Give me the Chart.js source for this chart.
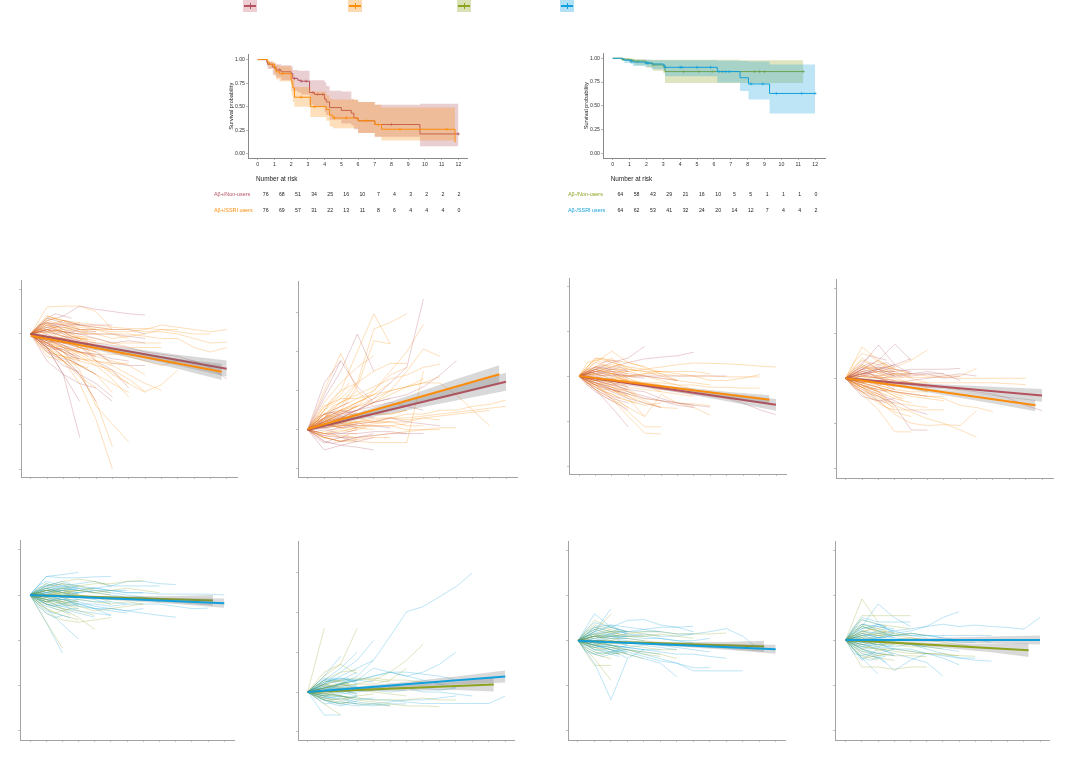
<!DOCTYPE html>
<html>
<head>
<meta charset="utf-8">
<title>Survival and biomarker trajectories</title>
<script src="https://cdn.jsdelivr.net/npm/chart.js@4/dist/chart.umd.js"></script>
<style>
    html, body { margin: 0; padding: 0; background: #fff; }
    body { position: relative; width: 1080px; height: 765px; overflow: hidden; }
    canvas { position: absolute; }
    .key { position: absolute; top: 0; width: 14px; height: 12px; }
    .key i { position: absolute; display: block; }
</style>
</head>
<body>
<script>
// groups
const RED = '#b5525f', ORANGE = '#fb8c0c', OLIVE = '#8ea21f', BLUE = '#12a0dc';
const keyColors = [RED, ORANGE, OLIVE, BLUE];
const keyFills = ['#ecced3', '#fdd9b0', '#d8e2b4', '#b2e1f5'];
const keyLefts = [243, 348, 457, 560];

// survival curves: time, estimate, upper and lower bound
const kmTicksX = [0, 1, 2, 3, 4, 5, 6, 7, 8, 9, 10, 11, 12];
const kmTicksY = [0, 0.25, 0.5, 0.75, 1];

const redT = [0, .55, .6, .9, 1.1, 1.4, 2, 2.1, 2.4, 2.6, 3.1, 3.4, 4, 4.1, 4.3, 5, 5.6, 5.75, 6, 7, 9.7, 12];
const redS = [1, .97, .95, .92, .89, .87, .85, .8, .78, .77, .65, .63, .58, .55, .49, .46, .43, .38, .35, .31, .21, .21];
const redU = [1, .99, .98, .96, .95, .94, .93, .89, .88, .88, .78, .78, .76, .72, .67, .66, .58, .57, .55, .52, .53, .53];
const redL = [1, .93, .9, .84, .81, .78, .75, .67, .65, .63, .52, .5, .44, .41, .36, .32, .3, .26, .22, .18, .08, .08];
const redCensorT = [1.3, 2.2, 2.6, 2.9, 3.3, 3.6, 3.9, 8, 12];
const redCensorS = [.89, .8, .77, .77, .65, .63, .63, .31, .21];

const orangeT = [0, .6, .7, 1, 1.1, 1.3, 2, 2.05, 2.1, 2.2, 3.15, 4.1, 4.3, 4.5, 6, 7, 7.4, 11.8];
const orangeS = [1, .97, .95, .9, .87, .85, .78, .74, .7, .6, .5, .47, .41, .38, .35, .31, .26, .12];
const orangeU = [1, .99, .98, .96, .94, .93, .9, .84, .79, .71, .66, .62, .58, .575, .55, .52, .49, .48];
const orangeL = [1, .94, .91, .83, .79, .77, .66, .62, .55, .5, .39, .35, .29, .27, .22, .18, .14, .14];
const orangeCensorT = [1.5, 2.6, 3.4, 4.6, 5.3, 6.5, 7.2, 8.5, 11.3];
const orangeCensorS = [.85, .6, .5, .38, .38, .35, .31, .26, .26];

const oliveT = [0, .5, .6, 1, 1.3, 2, 2.4, 3, 3.1, 6.2, 7.5, 11.3];
const oliveS = [1, .995, .99, .98, .97, .95, .93, .91, .86, .86, .86, .86];
const oliveU = [1, 1, 1, .995, .99, .985, .985, .985, .985, .985, .98, .98];
const oliveL = [1, .98, .97, .95, .93, .9, .87, .84, .74, .74, .74, .74];
const oliveCensorT = [.6, 1.1, 1.5, 2.4, 4.2, 5.1, 5.9, 6.5, 8.4, 8.7, 9, 11.3];
const oliveCensorS = [.99, .98, .97, .93, .86, .86, .86, .86, .86, .86, .86, .86];

const blueT = [0, .6, .7, 1.05, 1.2, 1.9, 2.3, 3, 3.1, 6.2, 7.55, 8.05, 9.3, 12];
const blueS = [1, .99, .98, .97, .96, .95, .94, .93, .905, .86, .795, .73, .63, .63];
const blueU = [1, 1, .995, .99, .985, .985, .98, .98, .98, .975, .97, .965, .935, .935];
const blueL = [1, .97, .95, .94, .92, .91, .885, .87, .81, .745, .655, .565, .42, .42];
const blueCensorT = [1.1, 2, 2.1, 3.1, 4, 4.1, 5, 5.8, 6.3, 6.7, 6.9, 8.2, 8.9, 9.7, 11.2, 12];
const blueCensorS = [.97, .95, .95, .905, .905, .905, .905, .905, .86, .86, .86, .73, .73, .63, .63, .63];

// number at risk rows
const riskRedRow = [76, 68, 51, 34, 25, 16, 10, 7, 4, 3, 2, 2, 2];
const riskOrangeRow = [76, 69, 57, 31, 22, 13, 11, 8, 6, 4, 4, 4, 0];
const riskOliveRow = [64, 58, 43, 29, 21, 16, 10, 5, 5, 1, 1, 1, 0];
const riskBlueRow = [64, 62, 53, 41, 32, 24, 20, 14, 12, 7, 4, 4, 2];

// change from baseline per participant, one value a year
const p1Orange = [[0,.6,.62,.62,.5,.1],[0,.35,.3,.25,.2,.15,.12,.12,.1,.1],[0,.25,.2,.15,.1,.05,.05,.1,.2,.15,.1,.05,.1],[0,.3,.2,.1,.1,.1,.1,.05,.05,0,-.1,-.2,-.18],[0,.1,.05,0,0,0,0,-.05,-.1,-.1,-.3,-.4,-.3],[0,.05,.1,.05,0,-.1,-.05,0,.1,.05,0,0],[0,.2,.05,-.05,-.1,-.2,-.3,-.3,-.3],[0,-.3,-.6,-1.1,-1.9,-3],[0,-.1,-.4,-.8,-1.6,-2,-2.4],[0,-.2,-.5,-.9,-1.5,-2.5],[0,-.2,-.4,-.6,-.7,-.8,-1,-1.28,-1.13,-.8],[0,-.1,-.3,-.4,-.6,-.7,-.9,-1.1,-1.25],[0,-.3,-.5,-.7,-.9,-1.1,-1.3],[0,-.2,-.3,-.4,-.5,-.6,-.7,-.9],[0,-.05,-.1,-.2,-.3,-.4,-.5,-.6,-.7,-.6],[0,-.15,-.3,-.5,-.7,-1,-1.4],[0,-.4,-.5,-.55,-.6,-.65,-.65],[0,-.5,-.6,-.7,-.9,-1.3],[0,-.1,-.2,-.3,-.35,-.7],[0,.4,.3,.2,.15,.1],[0,.2,.3,.2,.1,0,-.1],[0,.15,.15,.1,.05],[0,-.1,-.15,-.2,-.2,-.2,-.2,-.2,-.2],[0,-.25,-.35,-.4,-.45,-.45,-.45],[0,-.05,-.15,-.25,-.3,-.35],[0,.1,0,-.1,-.15],[0,-.3,-.6,-.95,-1.2],[0,.25,.1,-.1,-.2],[0,.1,-.05,-.1,-.6,-.9,-1.1],[0,-.1,-.25,-.45,-.65,-.85,-1.1,-1.3]];
const p1Red = [[0,.3,.4,.62,.55,.5,.45,.42],[0,.25,.2,.2,.2,.2],[0,.35,.25,.2,.15,.1,.1,0],[0,-.3,-.9,-2.3],[0,-.2,-.5,-.9,-1.5],[0,-.3,-.6,-.9,-1.1,-1.4],[0,-.6,-.9,-1.1,-1.2,-1.5],[0,-.3,-.9,-1.5],[0,-.05,-.1,-.15,-.2,-.25,-.3,-.4,-.45,-.5,-.6,-.75,-1],[0,.1,.05,0,-.1,-.2,-.15,-.2],[0,.2,.15,.05,.05],[0,-.1,-.2,-.3,-.4,-.65,-.7,-.7],[0,.15,.05,0,0,0,-.05,-.1],[0,-.1,-.3,-.4,-.5],[0,-.15,-.25,-.4,-.45,-.55,-.6],[0,-.25,-.4,-.7,-.9],[0,.05,-.05,-.15],[0,.1,.2,.1,.1],[0,-.05,-.1,-.25,-.6,-.8,-1.2],[0,-.4,-.7,-.85]];
const p2Orange = [[0,.5,1,2,2.97,2.2],[0,.3,.6,1.2,2.58,2.75,2.97],[0,.2,.5,1.1,2.28,2.2],[0,.2,.4,.6,1,1.5,2,2.7],[0,.1,.3,.5,.7,1,1.5,2.07,1.88],[0,1,1.96,1,.6],[0,.4,.7,.9,1.1,1.3,1.4,1.6,1.68],[0,.2,.4,.6,.8,1,1.1,1.2,1.36],[0,.3,.5,.7,.9,1,1.1,1.2,1.2,.9,.5,.1],[0,.1,.2,.2,.3,.3,.4,.4,.5,.5,.6,.65,.76],[0,.1,.15,.2,.2,.3,.3,.35,.4,.45,.5,.55,.6],[0,.05,.1,.1,.15,.2,.2,.3,.35,.4,.45,.49],[0,-.2,-.3,-.3,-.33,-.33,-.33,1.5],[0,.5,.8,1.2,1.5,1.7,1.7],[0,.4,.6,.8,1,1.4,1.6],[0,.3,.5,.6,.7,.9,1.1,1.3],[0,.2,.3,.3,.4,.4,.5],[0,.1,.1,.15,.2,.2],[0,.4,.3,.3,.2,.2,.1,.1],[0,.3,.2,.1,.1,.1,0,0,0],[0,.15,.2,.3,.4,.4,.5],[0,-.1,-.15,-.2,-.15,-.1,-.05,0,.05,.05],[0,-.2,-.3,-.25,-.2,-.2],[0,.6,.8,.8,.9],[0,.7,1.2,1.6,1.9],[0,.25,.45,.7,.9,1.2],[0,.15,.05,.05,0],[0,-.1,-.05,.05,.1,.1,.15],[0,.2,.15,.2,.25,.3,.25,.3,.25]];
const p2Red = [[0,.2,.4,.5,.8,1.2,1.6,3.35],[0,.8,1.5,2.45,1.5],[0,1.2,1.77],[0,.9,1.77,1.1,.7],[0,.2,.3,.5,.7,.8,.9,1.1,1.4,1.77],[0,-.3,-.4,-.45,-.52],[0,-.52,-.4,-.3,-.2],[0,-.1,-.1,-.1,-.05,-.05,-.1,-.1],[0,.1,.2,.3,.4,.5,.6],[0,.3,.4,.5,.7,.8],[0,-.15,-.2,-.2,-.15,-.1,-.1],[0,.05,.1,.15,.2,.3,.2,.15,.1],[0,.4,.5,.4,.3],[0,.15,.05,.1,.1,.05],[0,-.2,-.3,-.2,-.1],[0,.25,.35,.5,.6,.7,.6,.5]];
const p3Orange = [[0,.4,.3,.2,.15,.1],[0,.3,.55,.3,.2,.05,-.1],[0,.4,.35,.3,.2],[0,.1,.1,.1,.15,.2,.25,.29,.28,.27,.25,.22,.2],[0,.05,.05,0,.05,.05,0,0,0,-.02,-.02,-.02],[0,-.1,-.05,0,.05,.1,.05,0,-.1,-.1,-.05,.03],[0,-.05,-.1,-.1,-.15,-.15,-.2,-.2,-.25,-.25,-.27,-.27],[0,-.3,-.5,-.8,-1.13,-1.13],[0,-.2,-.5,-.9,-1.27,-1.29],[0,-.2,-.3,-.5,-.9,-.41,-.6,-.7,-.87],[0,-.1,-.2,-.35,-.5,-.55,-.6,-.62,-.66],[0,.2,.25,.15,.1,0,-.1],[0,.15,.2,.1,0,-.1,-.2,-.3],[0,-.15,-.3,-.45,-.6,-.7],[0,-.1,-.25,-.4,-.55,-.7,-.72],[0,-.25,-.4,-.55,-.65,-.6],[0,.1,0,-.1,-.15,-.2],[0,-.05,-.15,-.25,-.3,-.35,-.4,-.45],[0,.2,.1,0,0,-.05,-.1,-.15,-.2],[0,-.2,-.45,-.7,-.9],[0,.1,.15,.15,.1,.1,.1,.1,.05],[0,-.1,-.1,-.15,-.2,-.3,-.3],[0,.05,-.05,-.1],[0,.15,.05,-.05,-.2,-.35]];
const p3Red = [[0,.15,.3,.4,.66],[0,.1,.2,.3,.38,.42,.45,.53],[0,-.3,-.7,-1.13],[0,-.1,-.15,-.2,-.25,-.3,-.35,-.4,-.45,-.5,-.6,-.75,-.86],[0,-.15,-.3,-.4,-.5,-.55,-.6,-.65,-.69],[0,.02,0,0,0,0,0,0,0,0],[0,-.2,-.35,-.5,-.6,-.7],[0,.1,.05,0,-.05],[0,.2,.15,.1],[0,-.3,-.5,-.6],[0,-.1,-.2,-.3,-.35,-.5,-.6,-.65],[0,-.05,-.1,-.15,-.2],[0,.05,.1,.05,0,-.05,-.1],[0,-.15,-.25,-.35,-.45,-.55,-.65,-.7]];
const p4Orange = [[0,.7,.4,.2,.1],[0,.45,.2,.1,.05],[0,.1,.15,.25,.4,.63],[0,.05,.05,.1,.1,.05,.05,.05,.22],[0,0,.02,.02,.02,.02,.02,0,0,0,0,0],[0,-.05,-.05,-.1,-.1,-.1,-.1,-.1,-.1,-.1,-.12,-.14],[0,-.1,-.2,-.3,-.35,-.4,-.45,-.6,-.65,-.74],[0,-.2,-.4,-.6,-.75,-.9,-1,-1.15,-1.31],[0,-.35,-.7,-1.19,-1.19],[0,-.2,-.5,-.8,-1,-1.05,-1.03,-1.05,-.72],[0,-.1,-.35,-.7,-.7,-.7,-.7],[0,.3,.1,0,-.1,-.2],[0,.2,.3,.2,.1],[0,-.15,-.3,-.45,-.55],[0,-.25,-.4,-.55,-.6,-.65],[0,-.1,-.2,-.3,-.4,-.45,-.5],[0,.15,.05,-.05,-.1,-.15,-.2],[0,-.05,-.15,-.25,-.3,-.3],[0,.05,0,-.05,-.1,-.15,-.2,-.25],[0,-.3,-.55,-.75,-.85],[0,-.1,-.05,-.1,-.2,-.3],[0,.25,.2,.15,0,-.1],[0,-.2,-.25,-.3,-.35,-.4,-.4]];
const p4Red = [[0,.3,.74,.3,.1],[0,.2,.4,.76,.4],[0,.1,.2,.3,.44],[0,.1,.15,.15,.2,.2,.2,.22],[0,-.05,-.05,-.1,-.15,-.2,-.2,-.25,-.3,-.35,-.45,-.6,-.72],[0,-.15,-.3,-.6,-1.15,-1.15],[0,.15,.2,.1,.1,.1,.1],[0,-.4,-.5,-.45],[0,.1,.15,.05,.05,.1,0,.05],[0,-.1,-.2,-.3,-.35,-.4],[0,.2,.25,.2,.15],[0,-.05,-.1,-.1,-.05,0,.05,.1,.05],[0,-.2,-.35,-.5,-.7,-.8],[0,.05,0,-.05],[0,.1,0,.05,.1,.15,.1,-.05]];
const p5Blue = [[0,.41,.45,.5],[0,.41,.38,.38,.4,.41],[0,.15,.2,.25,.3,.2,.3,.3,.25,.23],[0,.1,.15,.1,.15,.2,.2,.2,.2],[0,.1,.1,.05,.1,.1,.05,.05,.02,.02,.02,.02,0],[0,-.05,-.1,-.1,-.15,-.15,-.2,-.2,-.2,-.25,-.3,-.29],[0,-.1,-.2,-.25,-.3,-.3,-.35,-.4,-.45,-.49],[0,-.3,-.65,-.97],[0,-.6,-1.28],[0,-.2,-.3,-.4,-.49],[0,.2,.25,.2,.15,.1,.1],[0,-.15,-.25,-.35,-.4,-.45],[0,.05,0,.05,.1,.05,0,-.05,-.1,-.15],[0,-.1,-.15,-.2,-.2,-.25,-.2],[0,.25,.15,.1,.05],[0,-.2,-.25,-.2,-.3,-.35,-.4],[0,.15,.05,-.05,-.1,-.2],[0,-.05,-.1,-.2,-.3,-.45],[0,.1,.2,.15,.05,0,-.05,-.05,-.15],[0,-.15,-.1,-.15,-.25,-.3,-.35,-.3],[0,.05,.1,.15,.15,.1,.05,.05]];
const p5Olive = [[0,-.6,-1.17],[0,.1,.15,.2,.25,.25,.3,.32],[0,-.1,-.3,-.5,-.76],[0,.2,.3,.35,.3,.2],[0,-.4,-.55,-.6,-.55,-.5],[0,.1,.05,0,-.05,-.15],[0,-.05,-.15,-.25,-.35,-.3,-.25,-.2],[0,.05,.1,.1,.05,.1,.15,.1,.05],[0,-.2,-.3,-.35,-.45],[0,.15,.25,.2,.1,.05],[0,-.1,-.2,-.1,-.15,-.2,-.15,-.2],[0,0,.05,0,-.05,-.1,-.1,-.1,-.12,-.1],[0,.1,.05,.1,.15],[0,-.15,-.1,-.2],[0,-.05,.05,.1,.05,0],[0,-.3,-.45,-.55]];
const p6Blue = [[0,.1,.2,.4,.8,1.4,2.02,2.15,2.4,2.65,3],[0,.2,.5,.8,1.3],[0,.3,.6,1],[0,.4,.9],[0,.2,.4,.6,.8],[0,.1,.2,.3,.4,.5,.4,.5,.7,1],[0,-.05,-.1,-.15,-.2,-.2,-.25,-.29,-.29,-.29,-.29,-.29,-.1],[0,-.58,-.58],[0,.3,.2,.3,.4,.5,.5,.45,.4,.3],[0,.2,.3,.3,.6,.5,.4,.3,.2,.1],[0,-.1,-.05,0,.05,.1,.1,0,0,-.05,-.1],[0,-.2,-.3,-.35,-.3,-.25,-.2,-.2,-.15,-.1],[0,.1,.05,.1,.05,.1,.1,.1,.05,.1],[0,.15,.1,.05,.05,0,.05],[0,-.1,-.2,-.25,-.3,-.35],[0,-.15,-.1,-.2,-.15],[0,.25,.35,.3,.25],[0,.05,0,.05,.1,.15,.2,.25],[0,-.3,-.25,-.3,-.35,-.3,-.3],[0,.1,.2,.15]];
const p6Olive = [[0,1.6],[0,.5,.7,1.6],[0,.4,.7,.45],[0,.1,.15,.2,.3,.5,.8,1.2],[0,.1,.15,.2,.2,.3,.6],[0,-.05,-.1,-.2,-.25,-.3,-.35,-.35,-.37],[0,-.1,-.1,-.15,-.2,-.2,-.2,-.15,-.2,-.2],[0,-.3,-.58],[0,.2,.3,.35,.3,.25],[0,.1,.2,.3,.35,.3,.3,.25],[0,-.2,-.25,-.3,-.3,-.35],[0,.05,.1,.1,.1,.15,.1,.1],[0,-.05,0,.05,0,-.05,-.1],[0,.15,.2,.1,.05],[0,-.15,-.2,-.1,-.05],[0,.3,.5,.55]];
const p7Blue = [[0,.6,.3,.15],[0,.2,.71],[0,.25,.3,.45,.47,.35,.3,.2],[0,.1,.15,.2,.25,.3,.3,.32],[0,.1,.1,.1,.15,.1,.1,.15,.2,.27,.1,-.2],[0,-.5,-1.31,-.4],[0,-.1,-.2,-.39,-.2],[0,-.1,-.15,-.2,-.3,-.4,-.5,-.67,-.67,-.67,-.67],[0,-.1,-.2,-.25,-.35,-.45,-.5,-.6,-.6],[0,-.1,-.2,-.3,-.4,-.5,-.8],[0,-.05,-.1,-.15,-.2,-.25,-.3,-.3,-.35,-.39],[0,.05,.1,.15,.1,.05,0,-.05],[0,.2,.1,.05,0],[0,-.15,-.1,-.15,-.2,-.2],[0,.15,.2,.2,.2,.2,.15,.15],[0,.3,.35,.3,.25,.2],[0,-.2,-.25,-.2,-.25,-.3],[0,0,.05,.1,.05,.05,0,0,.05],[0,-.05,-.1,-.15,-.1,-.15,-.2],[0,.1,.05,0,-.05,-.1,-.15,-.2,-.25]];
const p7Olive = [[0,-.4,-.88],[0,.2,.59],[0,-.55,-.55],[0,.1,.1,.15,.2,.2,.15,.15,.15,.17],[0,-.1,-.15,-.2,-.25,-.3,-.4],[0,.3,.2,.1,.1],[0,-.05,-.1,-.2,-.3,-.35],[0,.15,.2,.2,.15,.1],[0,-.1,-.05,-.1,-.15,-.2,-.2],[0,.05,.1,.1,.1,.15,.1,.05],[0,.45,.3,.2],[0,-.2,-.3,-.25],[0,.1,.05,.05,0,-.05,-.1],[0,-.15,-.2,-.3,-.4]];
const p8Blue = [[0,.3,.8,.5,.3],[0,.1,.15,.2,.25,.3,.5,.63],[0,.1,.1,.15,.2,.3,.35,.3,.33,.3,.28,.24,.5],[0,.05,.05,.1,.1,.1,.1,.1,.1,.1],[0,.5,.4,.4,.4],[0,-.1,-.2,-.3,-.4,-.5,-.8],[0,-.1,-.15,-.2,-.2,-.3,-.35,-.4,-.45,-.47],[0,-.05,-.1,-.2,-.25,-.3,-.4,-.55],[0,-.4,-.76],[0,-.2,-.35,-.68,-.45,-.3],[0,-.45,-.2],[0,.2,.15,.1,.15,.1,.05],[0,.15,.05,.05,0,0,0,-.05,-.05],[0,-.15,-.1,-.15,-.1,-.15],[0,.25,.3,.2,.1,.05],[0,0,.05,.1,.15,.1,.05,0,0,-.05],[0,-.25,-.3,-.35],[0,.1,0,-.05,-.1,-.15,-.2,-.25],[0,-.05,-.1,-.05,-.1,-.2,-.3,-.4,-.4],[0,.35,.3,.25]];
const p8Olive = [[0,.91,.4],[0,.54,.54,.54,.54],[0,.45,.35,.3,.25],[0,-.6,-.6,-.65,-.6,-.6],[0,-.2,-.3,-.35,-.35,-.37],[0,-.1,-.2,-.25,-.3,-.3,-.33,-.35,-.36],[0,.2,.25,.15,.1],[0,-.3,-.4,-.45],[0,.1,.15,.1,.05,0,-.05,-.1,-.15,-.2],[0,-.15,-.2,-.2,-.25,-.3,-.3,-.35],[0,.3,.2,.15],[0,.05,0,0,.05,0],[0,-.05,-.1,-.1,-.15,-.15,-.2],[0,.15,.1,.1,.15,.1],[0,-.4,-.35,-.3]];

// participants with early visits, one value every half year
const p1OrangeEarly = [[0,.2,.4,.35,.3,.2,.25],[0,.15,.3,.35,.2,.1],[0,.1,.2,.15,.25,.2,.1,.05],[0,.1,.1,.05,.15,.1,.05,0],[0,.2,.25,.1,.05,-.05],[0,.05,.1,.15,.05,-.05,-.1,-.1],[0,-.05,.05,0,-.05,-.1,-.05,-.15],[0,-.05,-.1,-.05,-.15,-.2,-.15,-.25],[0,-.1,-.15,-.2,-.15,-.25,-.3,-.35],[0,-.15,-.2,-.3,-.25,-.35,-.3],[0,-.1,-.25,-.3,-.4,-.45,-.4,-.5],[0,-.2,-.3,-.35,-.5,-.55,-.6],[0,-.15,-.35,-.45,-.5,-.6,-.7,-.75],[0,-.25,-.4,-.5,-.6,-.75],[0,-.05,-.15,-.3,-.35,-.45,-.55,-.6],[0,.05,0,-.1,-.2,-.2,-.3,-.35,-.4],[0,.1,.05,-.05,-.1,-.15,-.1,-.2],[0,0,-.05,-.15,-.1,-.2,-.3,-.4,-.5]];
const p1RedEarly = [[0,.15,.35,.45,.4,.35],[0,.2,.25,.2,.3,.25,.2],[0,.1,.15,.2,.1,.05,.1],[0,.05,.1,0,.05,-.05,-.1],[0,-.05,-.1,-.15,-.05,-.15,-.2,-.2],[0,-.1,-.2,-.15,-.25,-.3,-.35],[0,-.15,-.25,-.35,-.3,-.45,-.5],[0,-.2,-.35,-.5,-.55,-.6,-.7],[0,-.1,-.15,-.3,-.4,-.5,-.55],[0,-.05,0,-.1,-.2,-.15,-.25],[0,.05,.05,.1,0,-.1],[0,-.15,-.2,-.3,-.35,-.45,-.6]];
const p2OrangeEarly = [[0,.2,.5,.8,1,1.1,1.2],[0,.3,.6,.7,.9,1.2],[0,.1,.3,.6,.7,.8,1],[0,.2,.3,.5,.7,.9],[0,.15,.3,.4,.5,.6,.7,.8],[0,.1,.2,.3,.45,.5,.6],[0,.05,.2,.25,.3,.4,.35,.5],[0,.2,.25,.2,.3,.35,.4],[0,.1,.15,.1,.2,.25,.3,.3],[0,.05,.1,.15,.1,.15,.2],[0,-.1,-.05,0,.1,.15,.2,.1],[0,.1,.05,.1,.05,0,.05],[0,-.05,-.1,-.05,0,-.05,0,.05],[0,-.15,-.2,-.15,-.2,-.1,-.1],[0,-.1,-.2,-.25,-.3,-.2,-.25],[0,.25,.4,.3,.25,.35,.45]];
const p2RedEarly = [[0,.2,.3,.5,.6,.7],[0,.1,.25,.4,.45,.5,.65],[0,.15,.2,.25,.35,.3,.4],[0,.05,.1,.2,.15,.25,.3],[0,.1,.05,.1,.15,.1,.15],[0,0,.05,0,.05,.1,.05],[0,-.05,0,-.05,-.1,-.05,0],[0,-.1,-.15,-.1,-.2,-.15],[0,-.15,-.3,-.35,-.3,-.25,-.3],[0,-.2,-.35,-.25,-.2,-.25],[0,.3,.4,.45,.35],[0,.05,.15,.2,.3,.4,.35]];
const p3OrangeEarly = [[0,.3,.35,.4,.3,.25,.15],[0,.2,.35,.3,.4,.2],[0,.15,.3,.25,.2,.25,.2,.1],[0,.1,.2,.25,.15,.1,.05],[0,.05,.15,.1,.05,.1,0,-.05],[0,.1,.05,0,.05,-.05,-.1],[0,0,.05,-.05,-.1,-.05,-.15,-.2],[0,-.05,-.1,-.1,-.2,-.15,-.25],[0,-.1,-.15,-.2,-.25,-.3,-.3,-.4],[0,-.1,-.2,-.3,-.3,-.4,-.45],[0,-.15,-.25,-.35,-.4,-.5,-.55,-.6],[0,-.2,-.3,-.45,-.55,-.6,-.7],[0,-.05,-.15,-.25,-.35,-.35,-.45,-.55],[0,-.15,-.2,-.15,-.25,-.35],[0,.05,0,-.1,-.15,-.25,-.35,-.45],[0,.15,.1,.15,.05,0,-.1]];
const p3RedEarly = [[0,.15,.2,.3,.35,.3],[0,.1,.15,.1,.15,.2,.1],[0,.05,.1,.05,0,.05,-.05],[0,0,-.05,-.1,-.05,-.15],[0,-.05,-.1,-.15,-.2,-.2,-.25],[0,-.1,-.2,-.25,-.3,-.35,-.4],[0,-.15,-.25,-.35,-.45,-.5],[0,-.2,-.35,-.45,-.55,-.65,-.75],[0,-.1,-.15,-.2,-.3,-.35],[0,.1,.05,0,-.1,-.15],[0,.05,.15,.2,.1,0],[0,-.05,0,-.05,-.15,-.25,-.3]];
const p4OrangeEarly = [[0,.35,.55,.5,.35,.3],[0,.25,.4,.3,.4,.25,.15],[0,.2,.3,.25,.2,.3,.2],[0,.15,.25,.2,.1,.15,.05],[0,.1,.15,.2,.15,.05,.1,0],[0,.05,.1,0,.05,-.05,-.1],[0,0,.05,-.05,-.1,-.15,-.1,-.2],[0,-.05,-.1,-.05,-.15,-.2,-.25],[0,-.1,-.15,-.2,-.3,-.25,-.35,-.4],[0,-.1,-.2,-.3,-.35,-.45],[0,-.15,-.3,-.35,-.45,-.55,-.65],[0,-.2,-.3,-.45,-.5,-.65,-.7],[0,-.05,-.15,-.25,-.2,-.3,-.4,-.5],[0,-.15,-.2,-.15,-.3,-.4],[0,.05,-.05,-.1,-.2,-.3,-.4,-.45],[0,.15,.05,.1,0,-.05,-.15]];
const p4RedEarly = [[0,.2,.35,.5,.45,.4],[0,.15,.25,.35,.3,.35,.25],[0,.1,.2,.15,.25,.2,.15],[0,.05,.15,.1,.05,.1,.05],[0,0,.05,.1,0,-.05],[0,-.05,-.1,-.05,-.15,-.1,-.2],[0,-.1,-.15,-.2,-.25,-.3],[0,-.15,-.25,-.35,-.4,-.5,-.55],[0,-.2,-.3,-.4,-.5,-.55],[0,.1,.2,.3,.2,.25,.3],[0,.05,.1,.15,.2,.1,.1],[0,-.05,0,-.1,-.05,-.15,-.25]];
const p5BlueEarly = [[0,.2,.3,.25,.3,.25],[0,.15,.2,.25,.2,.15,.2],[0,.1,.2,.15,.1,.15,.1],[0,.1,.1,.05,.1,.05,.05],[0,.05,.05,.1,.05,0,.05],[0,0,.05,0,-.05,0,-.05],[0,-.05,0,-.05,-.1,-.05,-.1],[0,-.05,-.1,-.1,-.05,-.15,-.15],[0,-.1,-.15,-.1,-.2,-.15,-.25],[0,-.1,-.2,-.25,-.2,-.3,-.3],[0,-.15,-.25,-.3,-.35,-.4],[0,-.2,-.35,-.4,-.45,-.5],[0,.05,.15,.1,.15,.2,.15],[0,-.25,-.4,-.5,-.45]];
const p5OliveEarly = [[0,.15,.25,.2,.25,.15],[0,.1,.15,.1,.15,.1],[0,.05,.1,.05,0,.05,0],[0,0,-.05,0,-.05,-.1],[0,-.05,-.1,-.05,-.15,-.1,-.15],[0,-.1,-.15,-.2,-.15,-.25],[0,-.15,-.2,-.3,-.35,-.3],[0,-.2,-.3,-.4,-.35,-.45],[0,.05,0,.05,.1,.05],[0,-.05,-.15,-.1,-.2,-.25,-.3]];
const p6BlueEarly = [[0,.15,.3,.35,.3,.4,.5],[0,.1,.25,.3,.35,.3,.25],[0,.1,.2,.15,.2,.3,.2],[0,.05,.15,.1,.15,.1,.15],[0,.05,.1,.05,.1,.15,.1],[0,0,.05,.1,.05,0,.05],[0,0,-.05,0,.05,0,-.05],[0,-.05,-.1,-.05,0,-.05,-.1],[0,-.05,-.1,-.15,-.1,-.15,-.1],[0,-.1,-.15,-.2,-.15,-.2,-.25],[0,-.1,-.2,-.25,-.3,-.25,-.3],[0,-.15,-.2,-.3,-.35,-.3],[0,.2,.35,.3,.25,.35],[0,.1,.05,.1,.2,.25,.3]];
const p6OliveEarly = [[0,.15,.25,.3,.25,.2],[0,.1,.2,.15,.2,.15],[0,.05,.1,.15,.1,.05,.1],[0,.05,.05,0,.05,.1],[0,0,-.05,0,.05,0,-.05],[0,-.05,-.1,-.05,-.1,-.15],[0,-.1,-.15,-.2,-.15,-.2],[0,-.1,-.2,-.25,-.3,-.25],[0,.2,.15,.25,.3,.2],[0,-.05,0,.05,.1,.05]];
const p7BlueEarly = [[0,.25,.4,.35,.3,.25],[0,.2,.3,.25,.35,.25,.2],[0,.15,.25,.2,.15,.2,.15],[0,.1,.15,.1,.15,.1,.1],[0,.05,.1,.05,.1,.05,.05],[0,0,.05,0,-.05,0,-.05],[0,0,-.05,-.05,0,-.05,-.1],[0,-.05,-.1,-.05,-.1,-.15,-.1],[0,-.1,-.15,-.1,-.15,-.2,-.2],[0,-.1,-.2,-.2,-.25,-.2,-.3],[0,-.15,-.25,-.3,-.25,-.3],[0,-.2,-.3,-.35,-.3,-.35],[0,.1,.2,.25,.2,.25,.2],[0,-.25,-.3,-.25,-.3,-.25]];
const p7OliveEarly = [[0,.2,.35,.3,.25],[0,.15,.25,.2,.25,.2],[0,.1,.15,.1,.15,.1],[0,.05,.1,.05,0,.05],[0,0,-.05,0,-.05,-.05],[0,-.05,-.1,-.05,-.1,-.15],[0,-.1,-.15,-.2,-.15,-.2],[0,-.15,-.25,-.3,-.25,-.3],[0,-.2,-.3,-.35,-.4],[0,.05,.1,.15,.2,.15]];
const p8BlueEarly = [[0,.3,.45,.4,.35,.3],[0,.25,.35,.3,.35,.25,.2],[0,.15,.25,.3,.2,.25,.15],[0,.1,.2,.15,.2,.15,.1],[0,.05,.15,.1,.05,.1,.05],[0,.05,.05,0,.05,0],[0,0,-.05,-.05,0,-.05,-.05],[0,-.05,-.1,-.1,-.05,-.15,-.1],[0,-.1,-.15,-.2,-.15,-.25,-.2],[0,-.1,-.2,-.25,-.3,-.25,-.35],[0,-.15,-.3,-.35,-.4,-.35],[0,-.2,-.4,-.45,-.4,-.5],[0,.2,.3,.25,.35,.3],[0,-.3,-.35,-.3,-.4]];
const p8OliveEarly = [[0,.2,.35,.3,.25,.3],[0,.15,.3,.25,.2,.15],[0,.1,.2,.15,.1,.15],[0,.05,.1,.05,.1,.05],[0,0,.05,-.05,0,-.05],[0,-.05,-.1,-.05,-.15,-.1],[0,-.1,-.2,-.15,-.25,-.2],[0,-.15,-.25,-.3,-.35,-.3],[0,-.2,-.35,-.4,-.45],[0,.1,.15,.25,.15,.2]];

// fitted line ends [x, y] and confidence band rows [x, low, high]
const p1RedFit = [[0, 0], [12, -.77]];
const p1RedBand = [[0,-.04,.04],[3,-.22,-.17],[6,-.46,-.31],[9,-.7,-.46],[12,-.95,-.59]];
const p1OrangeFit = [[0, -.04], [11.7, -.84]];
const p1OrangeBand = [[0,-.08,0],[3,-.28,-.2],[6,-.52,-.38],[9,-.77,-.55],[11.7,-1.02,-.66]];
const p2RedFit = [[0, 0], [12, 1.23]];
const p2RedBand = [[0,-.03,.03],[3,.25,.36],[6,.5,.73],[9,.75,1.1],[12,1,1.46]];
const p2OrangeFit = [[0, .02], [11.6, 1.42]];
const p2OrangeBand = [[0,-.02,.05],[3,.3,.43],[6,.62,.86],[9,.92,1.3],[11.6,1.19,1.65]];
const p3RedFit = [[0, 0], [12, -.64]];
const p3RedBand = [[0,-.03,.03],[3,-.18,-.13],[6,-.36,-.27],[9,-.56,-.39],[12,-.77,-.51]];
const p3OrangeFit = [[0, 0], [11.6, -.53]];
const p3OrangeBand = [[0,-.03,.03],[3,-.15,-.12],[6,-.3,-.24],[9,-.47,-.35],[11.6,-.63,-.43]];
const p4RedFit = [[0, 0], [12, -.38]];
const p4RedBand = [[0,-.03,.03],[3,-.13,-.07],[6,-.25,-.14],[9,-.39,-.19],[12,-.52,-.24]];
const p4OrangeFit = [[0, 0], [11.6, -.6]];
const p4OrangeBand = [[0,-.03,.03],[3,-.18,-.13],[6,-.37,-.26],[9,-.56,-.37],[11.6,-.73,-.48]];
const p5BlueFit = [[0, 0], [12, -.18]];
const p5BlueBand = [[0,-.03,.03],[3,-.07,-.02],[6,-.13,-.05],[9,-.2,-.07],[12,-.28,-.08]];
const p5OliveFit = [[0, 0], [11.3, -.12]];
const p5OliveBand = [[0,-.03,.03],[3,-.06,-.01],[6,-.1,-.03],[9,-.17,-.02],[11.3,-.24,0]];
const p6BlueFit = [[0, 0], [12, .39]];
const p6BlueBand = [[0,-.03,.03],[3,.06,.14],[6,.13,.26],[9,.19,.39],[12,.24,.54]];
const p6OliveFit = [[0, 0], [11.3, .19]];
const p6OliveBand = [[0,-.03,.03],[3,.01,.09],[6,.03,.17],[9,.05,.25],[11.3,.01,.37]];
const p7BlueFit = [[0, 0], [12, -.19]];
const p7BlueBand = [[0,-.03,.03],[3,-.07,-.03],[6,-.13,-.06],[9,-.2,-.08],[12,-.29,-.09]];
const p7OliveFit = [[0, 0], [11.3, -.13]];
const p7OliveBand = [[0,-.03,.03],[3,-.06,-.01],[6,-.11,-.03],[9,-.18,-.03],[11.3,-.25,0]];
const p8BlueFit = [[0, 0], [12, 0]];
const p8BlueBand = [[0,-.03,.03],[3,-.03,.03],[6,-.05,.05],[9,-.08,.08],[12,-.1,.1]];
const p8OliveFit = [[0, 0], [11.3, -.23]];
const p8OliveBand = [[0,-.03,.03],[3,-.09,-.03],[6,-.17,-.07],[9,-.27,-.09],[11.3,-.38,-.08]];

const trajTicksX = [0, 1, 2, 3, 4, 5, 6, 7, 8, 9, 10, 11, 12];

const FONT = "'Liberation Sans', Arial, sans-serif";
Chart.defaults.font.family = FONT;

const xy = (xs, ys) => xs.map((x, i) => ({ x: x, y: ys[i] }));
const rgba = (hex, a) => hex + Math.round(a * 255).toString(16).padStart(2, '0');

// puts a canvas on the page and returns its 2d context
const addCanvas = function (left, top, width, height) {
    const c = document.createElement('canvas');
    c.width = width;
    c.height = height;
    c.style.left = left + 'px';
    c.style.top = top + 'px';
    c.style.width = width + 'px';
    c.style.height = height + 'px';
    document.body.appendChild(c);
    return c.getContext('2d');
};

// first dataset added is painted first
const stackOrder = function (datasets) {
    datasets.forEach((d, i) => { d.order = datasets.length - i; });
    return datasets;
};

const kmDatasets = function (color, t, s, u, l, censorT, censorS) {
    const band = rgba(color, 0.28);
    return [
        { data: xy(t, l), stepped: true, borderWidth: 0, pointRadius: 0, fill: false },
        { data: xy(t, u), stepped: true, borderWidth: 0, pointRadius: 0, fill: '-1', backgroundColor: band },
        { data: xy(t, s), stepped: true, borderColor: color, borderWidth: 1, pointRadius: 0, fill: false },
        { data: xy(censorT, censorS), showLine: false, pointStyle: 'cross', pointRadius: 1.6,
            pointBorderColor: color, pointBorderWidth: 0.6, fill: false }
    ];
};

const drawSurvival = function (g, groups, rows) {
    const xUnit = (g.x12 - g.x0) / 12;
    const yUnit = (g.y0 - g.y1);
    const scaleW = 20, scaleH = 10;
    const left = g.canvasLeft, top = g.top - 4, width = g.right + 4 - left, height = 222 - top;

    const riskTable = {
        id: 'riskTable',
        afterDraw(chart) {
            const ctx = chart.ctx;
            ctx.save();
            ctx.textBaseline = 'middle';
            ctx.font = '6.4px ' + FONT;
            ctx.fillStyle = '#222';
            ctx.textAlign = 'left';
            ctx.fillText('Number at risk', g.riskTitleX - left, 179 - top);
            rows.forEach((row, r) => {
                const y = g.riskRowY[r] - top;
                ctx.font = '5.4px ' + FONT;
                ctx.textAlign = 'left';
                ctx.fillStyle = row.color;
                ctx.fillText(row.label, g.riskLabelX - left, y);
                ctx.font = '5.2px ' + FONT;
                ctx.textAlign = 'center';
                ctx.fillStyle = '#222';
                row.values.forEach((v, i) => {
                    const x = g.riskX0 + (g.riskX12 - g.riskX0) * i / 12;
                    ctx.fillText(v, x - left, y);
                });
            });
            ctx.restore();
        }
    };

    new Chart(addCanvas(left, top, width, height), {
        type: 'line',
        data: { datasets: stackOrder(groups.flatMap(a => kmDatasets.apply(null, a))) },
        plugins: [riskTable],
        options: {
            responsive: false,
            animation: false,
            layout: { padding: { left: g.axisX - scaleW - left, right: 4, top: 4, bottom: 222 - g.bottom - scaleH } },
            plugins: { legend: { display: false }, tooltip: { enabled: false } },
            scales: {
                x: {
                    type: 'linear',
                    min: (g.axisX - g.x0) / xUnit,
                    max: 12 + (g.right - g.x12) / xUnit,
                    afterBuildTicks: s => { s.ticks = kmTicksX.map(v => ({ value: v })); },
                    afterFit: s => { s.height = scaleH; },
                    grid: { drawOnChartArea: false, tickLength: 2, color: '#888', tickWidth: 0.6 },
                    border: { color: '#8a8a8a', width: 1 },
                    ticks: { font: { size: 5.2 }, color: '#333', padding: 1, maxRotation: 0, autoSkip: false }
                },
                y: {
                    type: 'linear',
                    min: (g.y0 - g.bottom) / yUnit,
                    max: 1 + (g.y1 - g.top) / yUnit,
                    afterBuildTicks: s => { s.ticks = kmTicksY.map(v => ({ value: v })); },
                    afterFit: s => { s.width = scaleW; },
                    grid: { drawOnChartArea: false, tickLength: 2, color: '#888', tickWidth: 0.6 },
                    border: { color: '#8a8a8a', width: 1 },
                    ticks: { font: { size: 5.2 }, color: '#333', padding: 1, autoSkip: false,
                        callback: v => v.toFixed(2) },
                    title: { display: true, text: 'Survival probability', font: { size: 5.6 }, color: '#222', padding: 0 }
                }
            }
        }
    });
};

const trajDatasets = function (rows, color, step) {
    return rows.map(ys => ({
        data: ys.map((y, i) => ({ x: i * step, y: y })),
        borderColor: rgba(color, 0.28),
        borderWidth: 1,
        pointRadius: 0,
        fill: false
    }));
};

const fitDatasets = function (fit, band, color) {
    return [
        { data: band.map(b => ({ x: b[0], y: b[1] })), borderWidth: 0, pointRadius: 0, fill: false },
        { data: band.map(b => ({ x: b[0], y: b[2] })), borderWidth: 0, pointRadius: 0, fill: '-1', backgroundColor: 'rgba(110,110,110,0.26)' },
        { data: fit.map(p => ({ x: p[0], y: p[1] })), borderColor: color, borderWidth: 2, pointRadius: 0, fill: false }
    ];
};

const drawTrajectories = function (p) {
    const g = p.box;
    const xUnit = (g.x12 - g.x0) / 12;
    const scaleSize = 4;
    const datasets = [].concat(
        trajDatasets(p.rows[0], p.colors[1], 1),
        trajDatasets(p.rows[1], p.colors[0], 1),
        trajDatasets(p.early[0], p.colors[1], 0.5),
        trajDatasets(p.early[1], p.colors[0], 0.5),
        p.fits[0], p.fits[1]
    );
    new Chart(addCanvas(g.axisX - scaleSize, g.top, g.right - g.axisX + scaleSize + 1, g.bottom - g.top + scaleSize), {
        type: 'line',
        data: { datasets: stackOrder(datasets) },
        options: {
            responsive: false,
            animation: false,
            layout: { padding: { left: 0, right: 1, top: 0, bottom: 0 } },
            plugins: { legend: { display: false }, tooltip: { enabled: false } },
            scales: {
                x: {
                    type: 'linear',
                    min: (g.axisX - g.x0) / xUnit,
                    max: 12 + (g.right - g.x12) / xUnit,
                    afterBuildTicks: s => { s.ticks = trajTicksX.map(v => ({ value: v })); },
                    afterFit: s => { s.height = scaleSize; },
                    grid: { drawOnChartArea: false, tickLength: 2, color: '#999', tickWidth: 0.6 },
                    border: { color: '#a3a3a3', width: 1 },
                    ticks: { display: false }
                },
                y: {
                    type: 'linear',
                    min: (g.base - g.bottom) / g.unit,
                    max: (g.base - g.top) / g.unit,
                    afterBuildTicks: s => { s.ticks = p.ticksY.map(v => ({ value: v })); },
                    afterFit: s => { s.width = scaleSize; },
                    grid: { drawOnChartArea: false, tickLength: 2, color: '#999', tickWidth: 0.6 },
                    border: { color: '#a3a3a3', width: 1 },
                    ticks: { display: false }
                }
            }
        }
    });
};

// key swatches along the top edge
keyLefts.forEach((left, i) => {
    const key = document.createElement('div');
    key.className = 'key';
    key.style.left = left + 'px';
    key.style.background = keyFills[i];
    key.innerHTML = '<i style="left:1px;right:1px;top:5px;height:1.5px;background:' + keyColors[i] + '"></i>' +
        '<i style="left:6.5px;width:1px;top:3px;height:6px;background:' + keyColors[i] + '"></i>';
    document.body.appendChild(key);
});

drawSurvival(
    { canvasLeft: 210, axisX: 248, top: 54, bottom: 158, right: 468, x0: 257.7, x12: 459, y1: 59, y0: 153.7,
        riskTitleX: 256, riskLabelX: 214, riskRowY: [195, 210.5], riskX0: 265.7, riskX12: 459 },
    [[RED, redT, redS, redU, redL, redCensorT, redCensorS], [ORANGE, orangeT, orangeS, orangeU, orangeL, orangeCensorT, orangeCensorS]],
    [{ label: 'A\u03b2+/Non-users', color: RED, values: riskRedRow }, { label: 'A\u03b2+/SSRI users', color: ORANGE, values: riskOrangeRow }]
);
drawSurvival(
    { canvasLeft: 565, axisX: 603, top: 53, bottom: 158, right: 826, x0: 612.7, x12: 815.7, y1: 57.7, y0: 153.3,
        riskTitleX: 610.7, riskLabelX: 568, riskRowY: [195, 210.5], riskX0: 620.3, riskX12: 816 },
    [[OLIVE, oliveT, oliveS, oliveU, oliveL, oliveCensorT, oliveCensorS], [BLUE, blueT, blueS, blueU, blueL, blueCensorT, blueCensorS]],
    [{ label: 'A\u03b2-/Non-users', color: OLIVE, values: riskOliveRow }, { label: 'A\u03b2-/SSRI users', color: BLUE, values: riskBlueRow }]
);

const warm = [RED, ORANGE], cool = [OLIVE, BLUE];
const ticksHigh = [1, 0, -1, -2, -3];
const ticksRise = [3, 2, 1, 0, -1];
const ticksMid = [2, 1, 0, -1, -2];

[
    { box: { axisX: 21, right: 237, top: 280, bottom: 477, x0: 30.7, x12: 226.7, base: 334, unit: 45 }, ticksY: ticksHigh, colors: warm,
        rows: [p1Orange, p1Red], early: [p1OrangeEarly, p1RedEarly],
        fits: [fitDatasets(p1RedFit, p1RedBand, RED), fitDatasets(p1OrangeFit, p1OrangeBand, ORANGE)] },
    { box: { axisX: 298, right: 517, top: 281, bottom: 477, x0: 307.7, x12: 506, base: 429.7, unit: 39 }, ticksY: ticksRise, colors: warm,
        rows: [p2Orange, p2Red], early: [p2OrangeEarly, p2RedEarly],
        fits: [fitDatasets(p2RedFit, p2RedBand, RED), fitDatasets(p2OrangeFit, p2OrangeBand, ORANGE)] },
    { box: { axisX: 569, right: 786, top: 278, bottom: 474, x0: 579, x12: 776, base: 376, unit: 45 }, ticksY: ticksMid, colors: warm,
        rows: [p3Orange, p3Red], early: [p3OrangeEarly, p3RedEarly],
        fits: [fitDatasets(p3RedFit, p3RedBand, RED), fitDatasets(p3OrangeFit, p3OrangeBand, ORANGE)] },
    { box: { axisX: 836, right: 1053, top: 279, bottom: 478, x0: 845.7, x12: 1042, base: 378.3, unit: 45 }, ticksY: ticksMid, colors: warm,
        rows: [p4Orange, p4Red], early: [p4OrangeEarly, p4RedEarly],
        fits: [fitDatasets(p4RedFit, p4RedBand, RED), fitDatasets(p4OrangeFit, p4OrangeBand, ORANGE)] },
    { box: { axisX: 20, right: 234, top: 540, bottom: 740, x0: 30, x12: 224.3, base: 595, unit: 45.3 }, ticksY: ticksHigh, colors: cool,
        rows: [p5Blue, p5Olive], early: [p5BlueEarly, p5OliveEarly],
        fits: [fitDatasets(p5OliveFit, p5OliveBand, OLIVE), fitDatasets(p5BlueFit, p5BlueBand, BLUE)] },
    { box: { axisX: 298, right: 514, top: 541, bottom: 740, x0: 307.7, x12: 505.3, base: 692, unit: 39.7 }, ticksY: ticksRise, colors: cool,
        rows: [p6Blue, p6Olive], early: [p6BlueEarly, p6OliveEarly],
        fits: [fitDatasets(p6OliveFit, p6OliveBand, OLIVE), fitDatasets(p6BlueFit, p6BlueBand, BLUE)] },
    { box: { axisX: 568, right: 785, top: 541, bottom: 740, x0: 578, x12: 775.7, base: 640.7, unit: 45 }, ticksY: ticksMid, colors: cool,
        rows: [p7Blue, p7Olive], early: [p7BlueEarly, p7OliveEarly],
        fits: [fitDatasets(p7OliveFit, p7OliveBand, OLIVE), fitDatasets(p7BlueFit, p7BlueBand, BLUE)] },
    { box: { axisX: 835, right: 1049, top: 541, bottom: 740, x0: 845.7, x12: 1040, base: 640, unit: 45 }, ticksY: ticksMid, colors: cool,
        rows: [p8Blue, p8Olive], early: [p8BlueEarly, p8OliveEarly],
        fits: [fitDatasets(p8OliveFit, p8OliveBand, OLIVE), fitDatasets(p8BlueFit, p8BlueBand, BLUE)] }
].forEach(drawTrajectories);
</script>
</body>
</html>
